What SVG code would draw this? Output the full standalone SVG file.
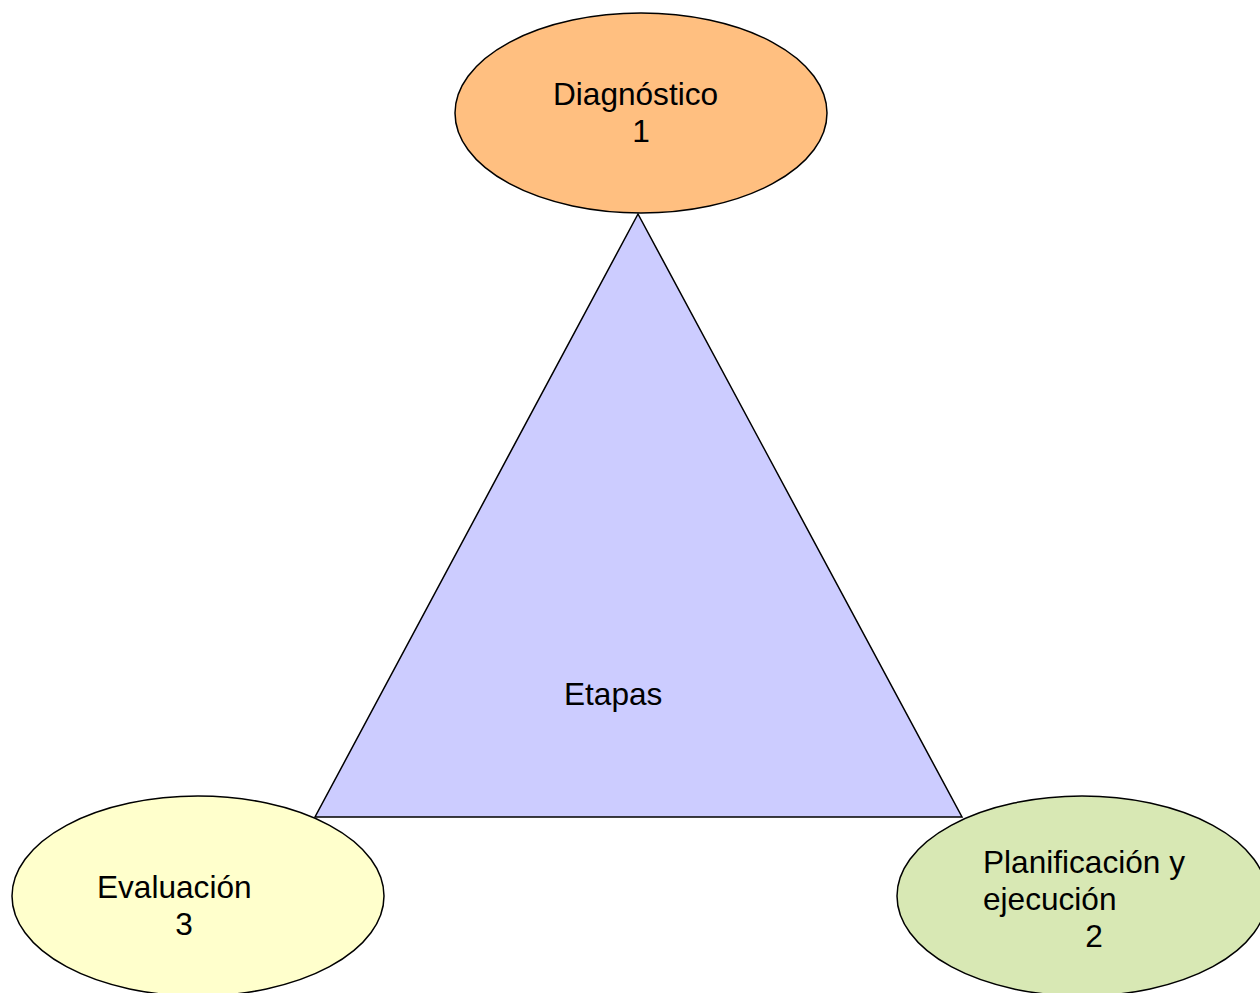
<svg xmlns="http://www.w3.org/2000/svg" width="1260" height="993" viewBox="0 0 1260 993">
<style>
.shape{stroke:#000;stroke-width:1.5}
.t{font-family:"Liberation Sans",Arial,sans-serif;font-size:31.6px;fill:#000}
</style>
<rect width="1260" height="993" fill="#fff"/>
<g id="connectors"></g>
<g id="etapas">
<polygon class="shape" points="638,214 315,817 962,817" fill="#CCCCFF"/>
<text class="t" x="564" y="705">Etapas</text>
</g>
<g id="diagnostico">
<ellipse class="shape" cx="641" cy="113" rx="186" ry="100" fill="#FFBF80"/>
<text class="t" x="553" y="105">Diagnóstico</text>
<text class="t" x="641" y="142" text-anchor="middle">1</text>
</g>
<g id="evaluacion">
<ellipse class="shape" cx="198" cy="896" rx="186" ry="100" fill="#FFFFCC"/>
<text class="t" x="97" y="898">Evaluación</text>
<text class="t" x="184" y="935" text-anchor="middle">3</text>
</g>
<g id="planificacion">
<ellipse class="shape" cx="1082" cy="896" rx="185" ry="100" fill="#D8E8B4"/>
<text class="t" x="983" y="873">Planificación y</text>
<text class="t" x="983" y="910">ejecución</text>
<text class="t" x="1094" y="947" text-anchor="middle">2</text>
</g>
</svg>
